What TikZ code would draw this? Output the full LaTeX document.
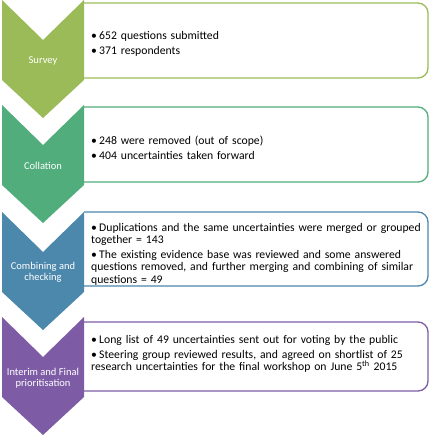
\documentclass[tikz,border=0pt]{standalone}
\usepackage{fontspec}
\setmainfont{Carlito}
\usepackage{tikz}

\definecolor{surveygreen}{HTML}{9BBB59}
\definecolor{collationteal}{HTML}{52AD7C}
\definecolor{combiningblue}{HTML}{4C87AC}
\definecolor{interimpurple}{HTML}{7E5CA5}

\newcommand{\bitem}[1]{\hangindent=8pt\hangafter=1\noindent\makebox[8pt][l]{\textbullet}#1\par}

\begin{document}
\begin{tikzpicture}[
		x=1pt, y=-1pt,
		stagebox/.style={
			line width=1.3pt,
			rounded corners=10pt
		},
		stagelabel/.style={
			text=white,
			align=center,
			inner sep=0pt,
			font=\fontsize{10.5}{11.4}\selectfont
		},
		bullets/.style={
			anchor=west,
			inner sep=0pt,
			text width=336pt,
			align=left,
			font=\fontsize{11.7}{12.3}\selectfont\setlength{\parskip}{2.8pt}
		}
	]
	\useasboundingbox (0,0) rectangle (433,440);
	
	% boxes, open on the left
	\draw[stagebox, surveygreen] (84,3) -- (428,3) -- (428,78) -- (84,78);
	\draw[stagebox, collationteal] (84,107) -- (428,107) -- (428,182) -- (84,182);
	\draw[stagebox, combiningblue] (84,212) -- (428,212) -- (428,286) -- (84,286);
	\draw[stagebox, interimpurple] (84,322) -- (428,322) -- (428,391) -- (84,391);
	
	% chevrons
	\foreach \top/\col in {0/surveygreen, 105/collationteal, 212/combiningblue, 317/interimpurple}
		\fill[\col] (2,\top) -- (43,\top+40) -- (84,\top) -- (84,\top+80)
			-- (43,\top+118) -- (2,\top+80) -- cycle;
	
	\node[stagelabel] (L1) at (43,61) {Survey};
	\node[stagelabel] (L2) at (43,166) {Collation};
	\node[stagelabel] (L3) at (43,272) {Combining and\\checking};
	\node[stagelabel] (L4) at (43,378) {Interim and Final\\prioritisation};
	
	\node[bullets] (T1) at (91,43.5) {%
		\bitem{652 questions submitted}
		\bitem{371 respondents}};
	\node[bullets] (T2) at (91,147.5) {%
		\bitem{248 were removed (out of scope)}
		\bitem{404 uncertainties taken forward}};
	\node[bullets] (T3) at (91,254) {%
		\bitem{Duplications and the same uncertainties were merged or grouped\\together = 143}
		\bitem{The existing evidence base was reviewed and some answered\\questions removed, and further merging and combining of similar\\questions = 49}};
	\node[bullets] (T4) at (91,354) {%
		\bitem{Long list of 49 uncertainties sent out for voting by the public}
		\bitem{Steering group reviewed results, and agreed on shortlist of 25\\research uncertainties for the final workshop on June 5\textsuperscript{th} 2015}};
	
\end{tikzpicture}
\end{document}
